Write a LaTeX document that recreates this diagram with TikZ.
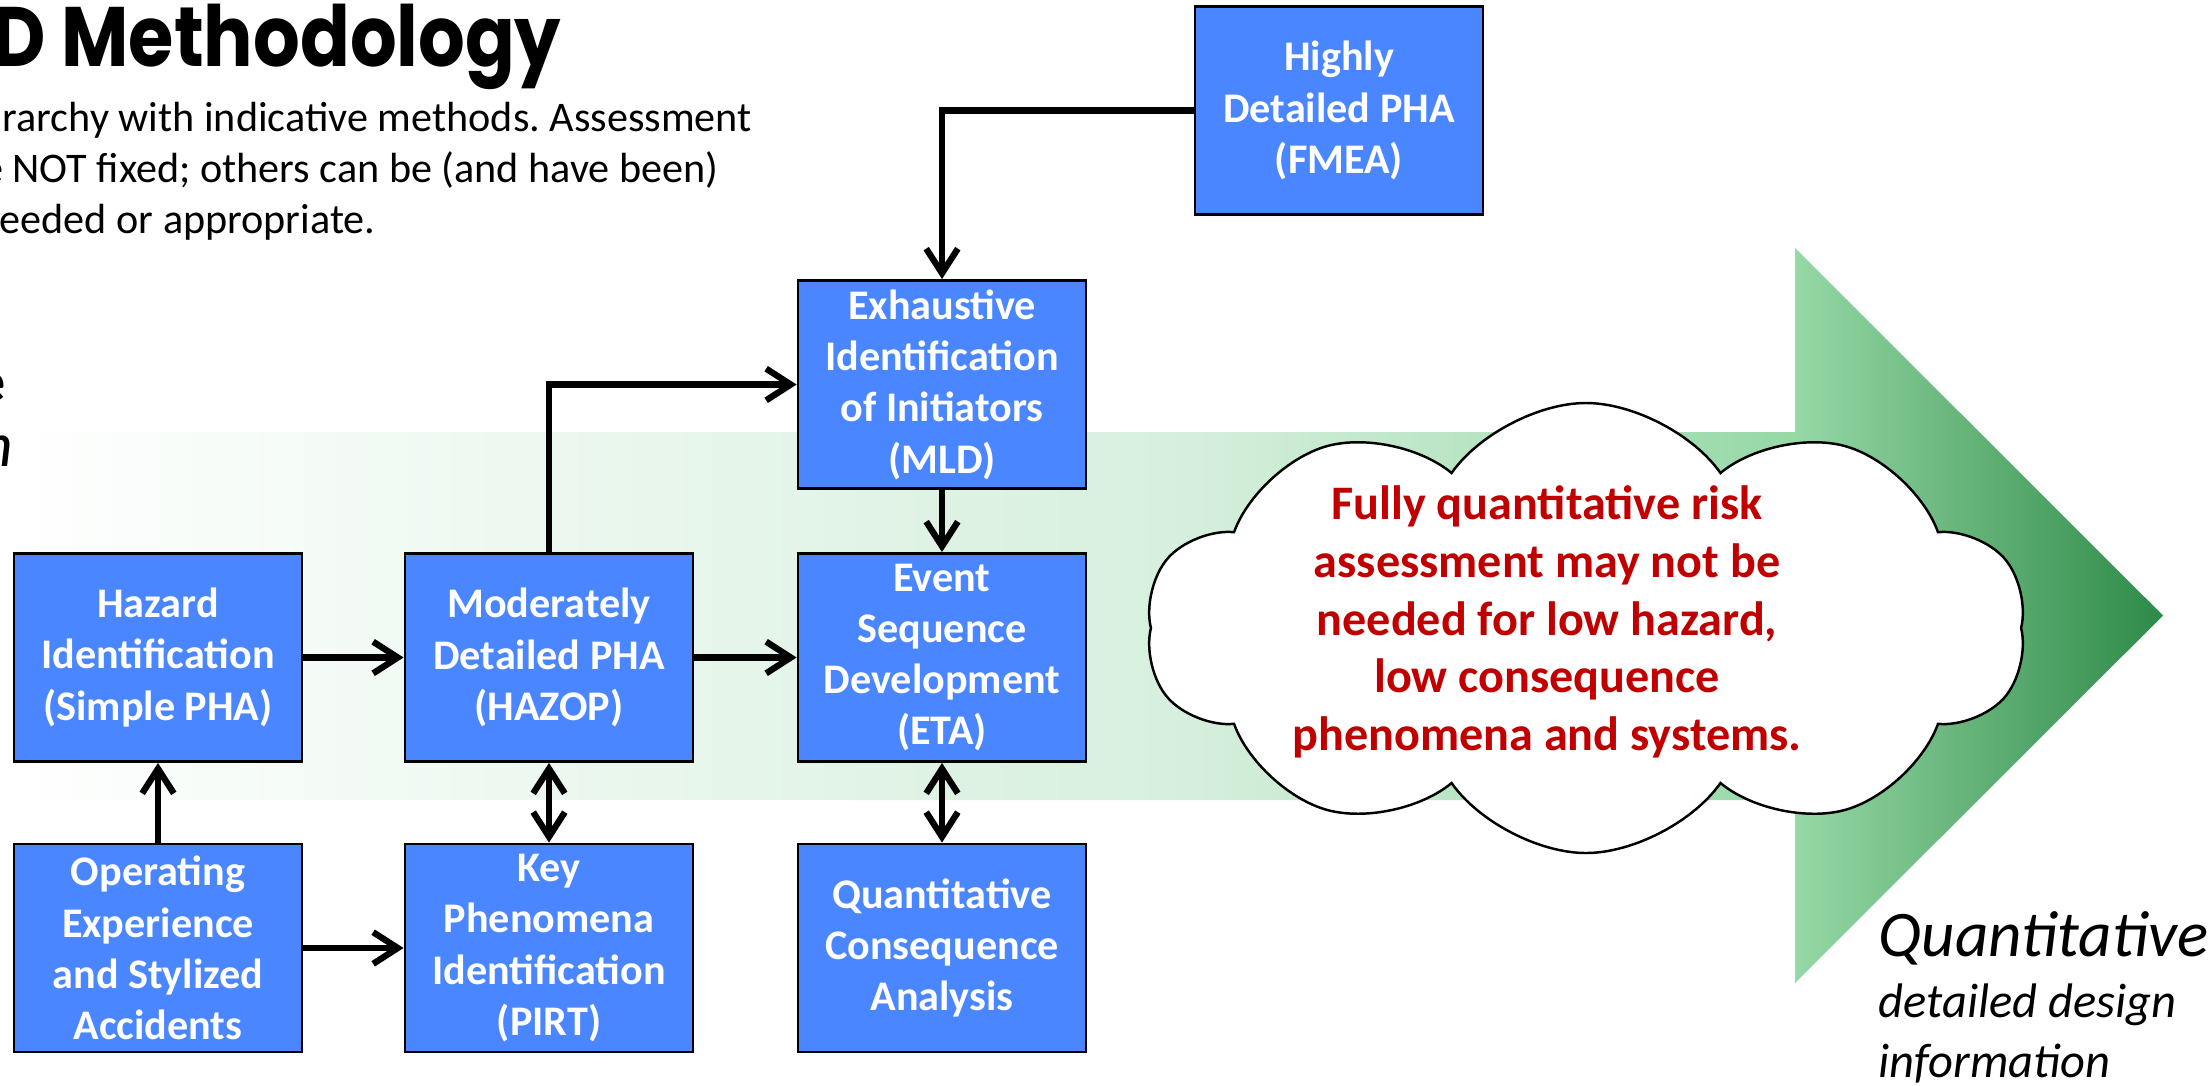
\documentclass[tikz,border=0pt]{standalone}
\usepackage{fontspec}
\setmainfont{Carlito}
\newfontfamily\headfont{Poppins}
\usepackage{tikz}
\usetikzlibrary{shapes,arrows.meta}
\frenchspacing

\definecolor{boxblue}{RGB}{74,134,255}
\definecolor{cloudred}{RGB}{192,0,0}
\definecolor{bandgreen}{RGB}{214,239,221}
\definecolor{headgreen}{RGB}{150,216,166}
\definecolor{tipgreen}{RGB}{46,138,72}
\pgfdeclarehorizontalshading{bandshade}{100bp}{color(0bp)=(white); color(25bp)=(white); color(52.5bp)=(bandgreen); color(66.5bp)=(headgreen); color(75bp)=(tipgreen); color(100bp)=(tipgreen)}

\tikzset{
  blk/.style={draw=black, line width=0.8pt, fill=boxblue, text=white, align=center,
    font=\bfseries\fontsize{12}{14.6}\selectfont, minimum width=2.88cm, minimum height=2.08cm, inner sep=0pt},
  flow/.style={line width=1.8pt, -{Straight Barb[length=7pt,width=9pt]}},
  flow2/.style={line width=1.8pt, {Straight Barb[length=7pt,width=9pt]}-{Straight Barb[length=7pt,width=9pt]}},
  txt/.style={anchor=base west, inner sep=0pt}
}

\begin{document}
\begin{tikzpicture}
        \useasboundingbox (0,0) rectangle (22.12,-10.85);
        \clip (0,0) rectangle (22.12,-10.85);

        % 绘制背景箭头
        \shade[shading=bandshade] (0,-4.32) -- (17.95,-4.32) -- (17.95,-2.48) -- (21.63,-6.155)
            -- (17.95,-9.83) -- (17.95,-8.0) -- (0,-8.0) -- cycle;

        % 标题与说明
        \node[txt, font=\headfont\bfseries\fontsize{24}{28}\selectfont] (title) at (-0.08,-0.66) {\scalebox{0.87}[1]{D Methodology}};
        \node[txt, font=\fontsize{12}{14.6}\selectfont] (sub1) at (0.02,-1.31) {rarchy with indicative methods. Assessment};
        \node[txt, font=\fontsize{12}{14.6}\selectfont] (sub2) at (-0.185,-1.82) {e NOT fixed; others can be (and have been)};
        \node[txt, font=\fontsize{12}{14.6}\selectfont] (sub3) at (-0.01,-2.33) {eeded or appropriate.};
        \node[anchor=base east, inner sep=0pt, font=\bfseries\fontsize{16.5}{20}\selectfont] (frag1) at (0.06,-4.01) {e};
        \node[anchor=base east, inner sep=0pt, font=\itshape\fontsize{18}{22}\selectfont] (frag2) at (0.14,-4.66) {n};

        % 方法框
        \node[blk] (fmea) at (13.39,-1.105) {Highly\\Detailed PHA\\(FMEA)};
        \node[blk] (mld) at (9.42,-3.845) {Exhaustive\\Identification\\of Initiators\\(MLD)};
        \node[blk] (haz) at (1.58,-6.575) {Hazard\\Identification\\(Simple PHA)};
        \node[blk] (mod) at (5.49,-6.575) {Moderately\\Detailed PHA\\(HAZOP)};
        \node[blk] (esd) at (9.42,-6.575) {Event\\Sequence\\Development\\(ETA)};
        \node[blk] (ope) at (1.58,-9.48) {Operating\\Experience\\and Stylized\\Accidents};
        \node[blk] (kpi) at (5.49,-9.48) {Key\\Phenomena\\Identification\\(PIRT)};
        \node[blk] (qca) at (9.42,-9.48) {Quantitative\\Consequence\\Analysis};

        % 连线
        \draw[flow] (haz.east) -- (mod.west);
        \draw[flow] (mod.east) -- (esd.west);
        \draw[flow] (ope.north) -- (haz.south);
        \draw[flow] (ope.east) -- (kpi.west);
        \draw[flow2] (mod.south) -- (kpi.north);
        \draw[flow2] (esd.south) -- (qca.north);
        \draw[flow] (mod.north) |- (mld.west);
        \draw[flow] (mld.south) -- (esd.north);
        \draw[flow] (fmea.west) -| (mld.north);

        % 云形注释
        \node[cloud, cloud puffs=10, cloud puff arc=110, cloud ignores aspect, draw=black, line width=0.7pt,
            fill=white, minimum width=8.8cm, minimum height=4.5cm] (cld) at (15.86,-6.28) {};
        \node[text=cloudred, align=center, font=\bfseries\fontsize{13.7}{16.4}\selectfont] (msg) at (15.47,-6.22)
            {Fully quantitative risk\\assessment may not be\\needed for low hazard,\\low consequence\\phenomena and systems.};

        % 右下角文字
        \node[txt, font=\itshape\fontsize{18.5}{22}\selectfont] (qlab) at (18.78,-9.56) {Quantitative};
        \node[txt, font=\itshape\fontsize{13.8}{16}\selectfont] (qdet) at (18.78,-10.17) {detailed design};
        \node[txt, font=\itshape\fontsize{13.8}{16}\selectfont] (qinf) at (18.78,-10.77) {information};
    \end{tikzpicture}
\end{document}
